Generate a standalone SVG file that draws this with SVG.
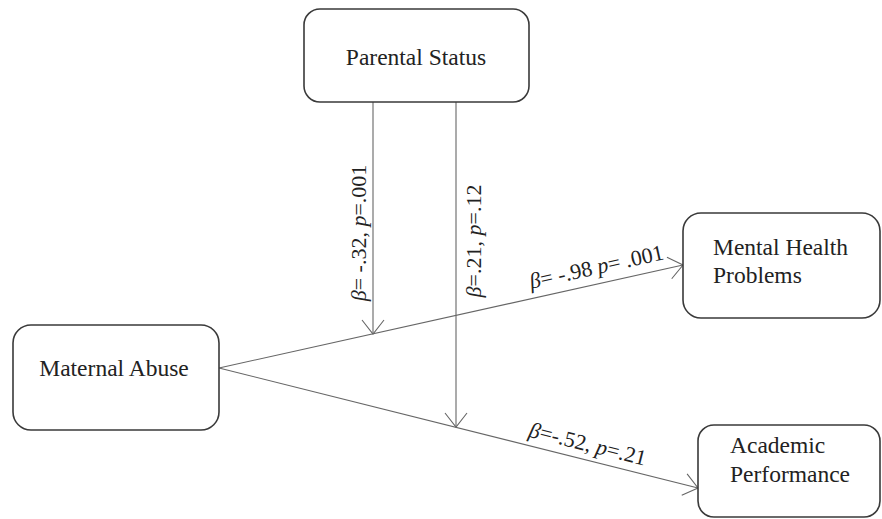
<svg xmlns="http://www.w3.org/2000/svg" width="882" height="519" viewBox="0 0 882 519">
<defs>
<style>
.box{fill:#fff;stroke:#3a3a3a;stroke-width:1.6}
.t{font-family:"Liberation Serif","Times New Roman",serif;font-size:23.5px;fill:#222}
.l{font-family:"Liberation Serif","Times New Roman",serif;font-size:22px;fill:#222}
.c{stroke:#666;stroke-width:1.1;fill:none}
</style>
<marker id="a" markerUnits="userSpaceOnUse" markerWidth="30" markerHeight="30" viewBox="-16 -15 20 30" refX="0" refY="0" orient="auto">
<path d="M-14,-11 L0,0 L-14,11" fill="none" stroke="#666" stroke-width="1.1"/>
</marker>
</defs>
<rect width="882" height="519" fill="#fff"/>
<g id="connectors">
<line class="c" x1="219" y1="368" x2="683" y2="265" marker-end="url(#a)"/>
<line class="c" x1="219" y1="368" x2="698" y2="488" marker-end="url(#a)"/>
<line class="c" x1="373" y1="102" x2="373" y2="334" marker-end="url(#a)"/>
<line class="c" x1="456" y1="102" x2="456" y2="427" marker-end="url(#a)"/>
<text class="l" transform="translate(366,233) rotate(-90)" text-anchor="middle"><tspan font-style="italic">β</tspan>= -.32, <tspan font-style="italic">p</tspan>=.001</text>
<text class="l" transform="translate(481,241) rotate(-90)" text-anchor="middle"><tspan font-style="italic">β</tspan>=.21, <tspan font-style="italic">p</tspan>=.12</text>
<text class="l" transform="translate(598,274) rotate(-12.5)" text-anchor="middle"><tspan font-style="italic">β</tspan>= -.98 <tspan font-style="italic">p</tspan>= .001</text>
<text class="l" transform="translate(586,451) rotate(14.06)" text-anchor="middle"><tspan font-style="italic">β</tspan>=-.52, <tspan font-style="italic">p</tspan>=.21</text>
</g>
<g id="parental-status">
<rect class="box" x="304" y="9" width="225" height="93" rx="16"/>
<text class="t" x="416" y="65" text-anchor="middle">Parental Status</text>
</g>
<g id="maternal-abuse">
<rect class="box" x="13" y="325" width="206" height="105" rx="18"/>
<text class="t" x="114" y="376" text-anchor="middle">Maternal Abuse</text>
</g>
<g id="mental-health">
<rect class="box" x="683" y="213" width="197" height="105" rx="18"/>
<text class="t" x="713" y="255">Mental Health</text>
<text class="t" x="713" y="283">Problems</text>
</g>
<g id="academic-performance">
<rect class="box" x="698" y="425" width="182" height="92" rx="16"/>
<text class="t" x="730" y="453">Academic</text>
<text class="t" x="730" y="482">Performance</text>
</g>
</svg>
